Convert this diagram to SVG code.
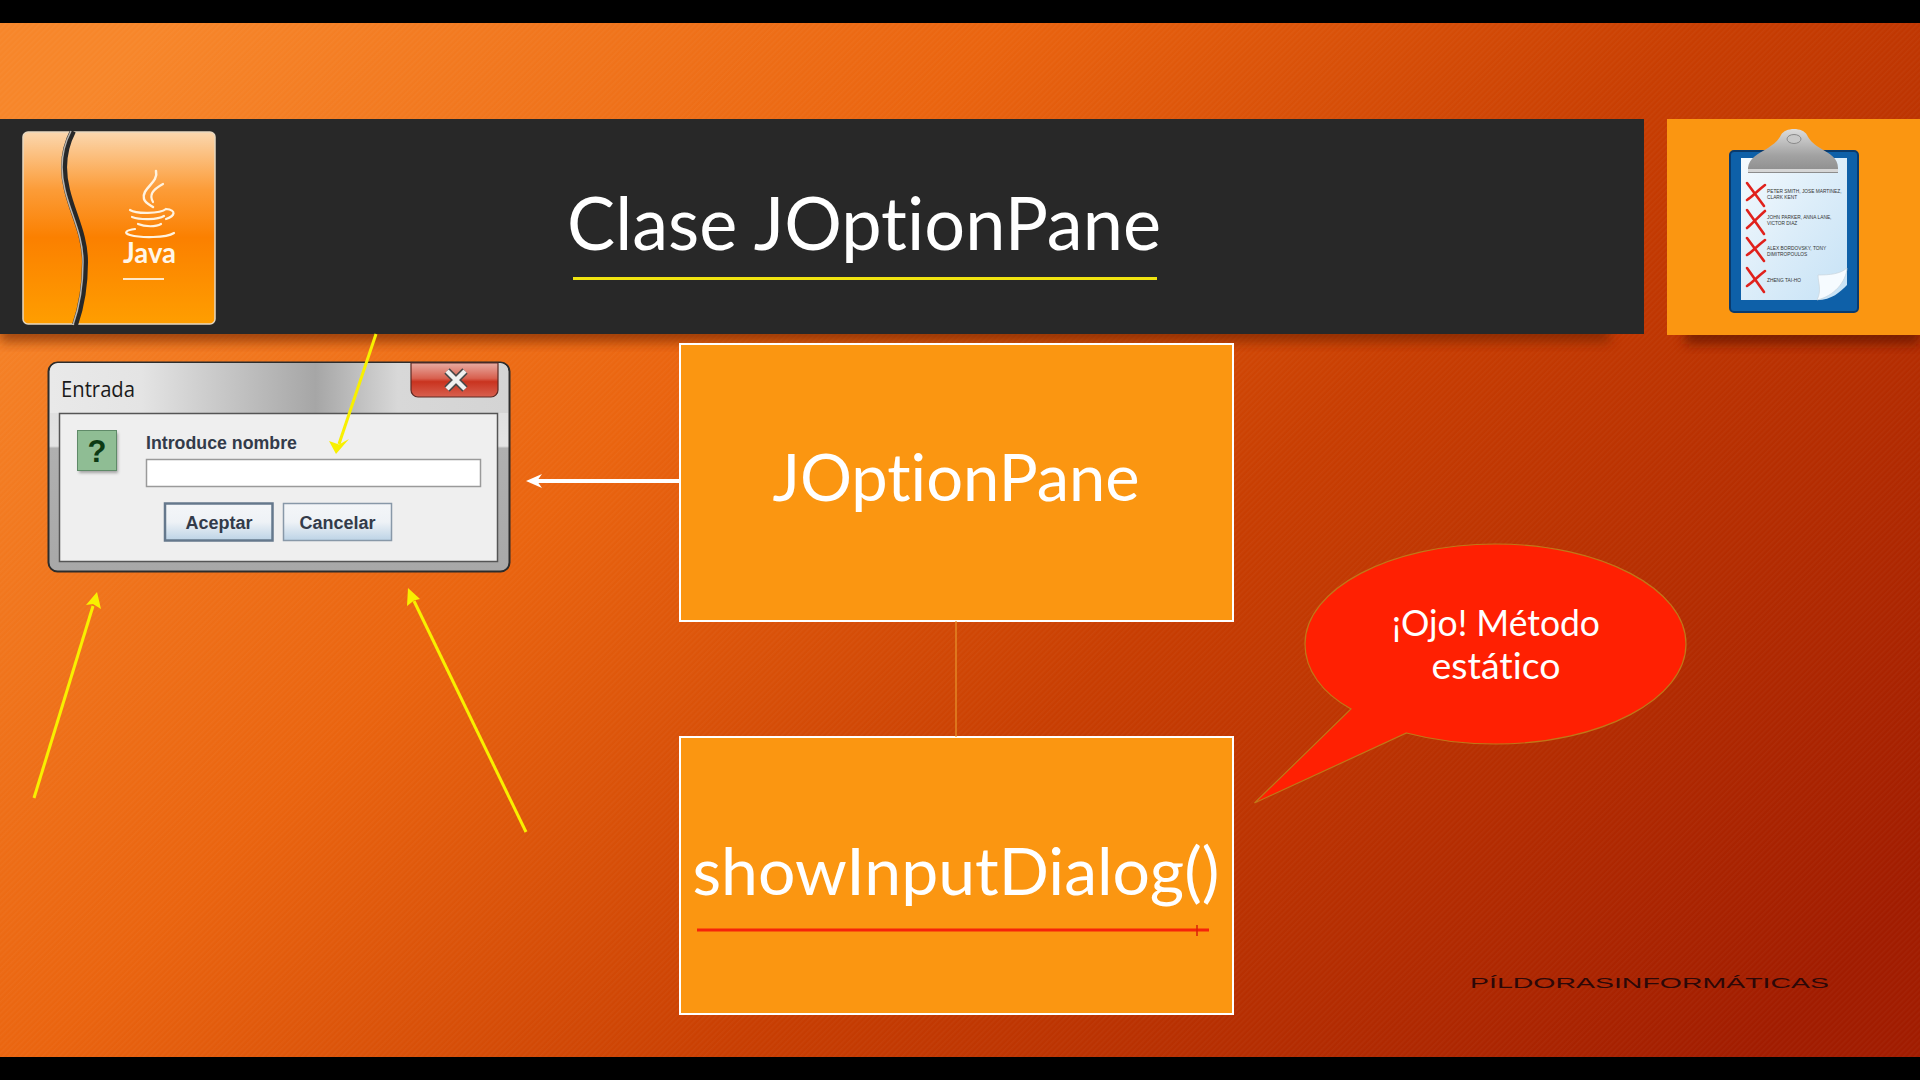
<svg xmlns="http://www.w3.org/2000/svg" width="1920" height="1080" viewBox="0 0 1920 1080">
<style>
.box{fill:#fb9611;stroke:#fff;stroke-width:2}
.big{font-family:"Lato","Open Sans",sans-serif;fill:#fff;text-anchor:middle;font-variant-ligatures:none}
.ui{font-family:"Liberation Sans",Arial,sans-serif;font-weight:bold;fill:#333b4a}
.tiny{font-family:"Liberation Sans",Arial,sans-serif;font-size:4.8px;fill:#333}
.yl{stroke:#f8f000;stroke-width:3;fill:none}
.yh{fill:#f8f000}
.xm{stroke:#e0211c;stroke-width:2.6;fill:none;stroke-linecap:round}
</style>
<defs>
<linearGradient id="bg" gradientUnits="userSpaceOnUse" x1="280" y1="-100" x2="1640" y2="1180">
<stop offset="0" stop-color="#f7862a"/><stop offset=".33" stop-color="#ea640f"/><stop offset=".6" stop-color="#c83e02"/><stop offset="1" stop-color="#a11c00"/>
</linearGradient>
<pattern id="st" width="4" height="4" patternUnits="userSpaceOnUse" patternTransform="rotate(45)">
<rect width="1.600" height="4" fill="#fff" opacity=".03"/>
</pattern>
<linearGradient id="ic" x1="0" y1="0" x2="0" y2="1">
<stop offset="0" stop-color="#fbd7ae"/><stop offset=".3" stop-color="#fc9c38"/><stop offset=".55" stop-color="#fb8000"/><stop offset="1" stop-color="#ff9e00"/>
</linearGradient>
<linearGradient id="ttl" x1="0" y1="0" x2="1" y2="0">
<stop offset="0" stop-color="#e9e9e9"/><stop offset=".2" stop-color="#e4e4e4"/><stop offset=".58" stop-color="#a6a6a6"/><stop offset=".76" stop-color="#d8d8d8"/><stop offset="1" stop-color="#d4d4d4"/>
</linearGradient>
<linearGradient id="fr" x1="0" y1="0" x2="0" y2="1">
<stop offset="0" stop-color="#d9d9d9"/><stop offset=".4" stop-color="#e4e4e4"/><stop offset=".41" stop-color="#b0b0b0"/><stop offset="1" stop-color="#a8a8a8"/>
</linearGradient>
<linearGradient id="cls" x1="0" y1="0" x2="0" y2="1">
<stop offset="0" stop-color="#e8aca2"/><stop offset=".45" stop-color="#d8604f"/><stop offset=".55" stop-color="#c9331f"/><stop offset="1" stop-color="#d8604f"/>
</linearGradient>
<linearGradient id="btn" x1="0" y1="0" x2="0" y2="1">
<stop offset="0" stop-color="#f4f6f8"/><stop offset=".5" stop-color="#eef2f6"/><stop offset="1" stop-color="#bcd3e6"/>
</linearGradient>
<linearGradient id="clip" x1="0" y1="0" x2="0" y2="1">
<stop offset="0" stop-color="#dcdcdc"/><stop offset=".6" stop-color="#a2a2a2"/><stop offset="1" stop-color="#8c8c8c"/>
</linearGradient>
<linearGradient id="paper" x1="0" y1="0" x2="1" y2="1">
<stop offset="0" stop-color="#f4fafe"/><stop offset=".5" stop-color="#dcedf9"/><stop offset="1" stop-color="#c6e2f6"/>
</linearGradient>
<filter id="bl" x="-10%" y="-50%" width="120%" height="200%"><feGaussianBlur stdDeviation="6"/></filter>
<filter id="sm" x="-20%" y="-20%" width="140%" height="140%"><feGaussianBlur stdDeviation="1.5"/></filter>
</defs>

<rect width="1920" height="1080" fill="url(#bg)"/>
<rect width="1920" height="1080" fill="url(#st)"/>
<rect width="1920" height="23" fill="#000"/>
<rect y="1057" width="1920" height="23" fill="#000"/>

<g id="banner">
<rect x="0" y="322" width="1610" height="20" fill="#6a2000" opacity=".6" filter="url(#bl)"/>
<rect x="0" y="119" width="1644" height="215" fill="#282828"/>
<text x="864" y="250" class="big" font-size="73" textLength="594" lengthAdjust="spacingAndGlyphs">Clase JOptionPane</text>
<rect x="573" y="277" width="584" height="3" fill="#f0e410"/>
</g>

<g id="java-icon">
<rect x="23" y="132" width="192" height="192" rx="5" fill="url(#ic)" stroke="#e8d8c0" stroke-width="1.500"/>
<path d="M73 131C63 150 62 170 67 190C73 215 85 235 85 262C85 285 82 305 75 325" fill="none" stroke="#282828" stroke-width="6"/>
<path d="M71 131C61 150 60 170 65 190C71 215 83 235 83 262C83 285 80 305 73 325" fill="none" stroke="#f4f0e8" stroke-width="1.500" opacity=".7"/>
<g fill="none" stroke="#fff3e0" stroke-linecap="round">
<path d="M156 171C159 183 141 188 144 199C145 203 150 205 153 207" stroke-width="2.500"/>
<path d="M163 184C152 190 149 195 153 202" stroke-width="2.200"/>
<path d="M130 210C136 214 160 214 166 209C177 210 175 216 166 219" stroke-width="2.200"/>
<path d="M132 217C140 220 158 220 164 216" stroke-width="2.200"/>
<path d="M138 224C145 227 156 227 161 224" stroke-width="2.200"/>
<path d="M135 229C126 230 123 233 130 235C141 238 166 238 174 233" stroke-width="2.200"/>
</g>
<text x="123" y="263" font-family="'Lato','Open Sans',sans-serif" font-size="28" font-weight="bold" fill="#fff6e8" textLength="53" lengthAdjust="spacingAndGlyphs">Java</text>
<rect x="123" y="278" width="41" height="2" fill="#ffe8c8"/>
</g>

<g id="list-icon">
<rect x="1685" y="324" width="235" height="20" fill="#5e1800" opacity=".7" filter="url(#bl)"/>
<rect x="1667" y="119" width="253" height="216" fill="#fb9611"/>
<rect x="1730" y="151" width="128" height="161" rx="4" fill="#0e60a8" stroke="#0a3a6c" stroke-width="2"/>
<path d="M1741 158H1847V285C1840 292 1832 300 1817 300H1741Z" fill="url(#paper)"/>
<path d="M1817 300C1822 290 1818 283 1818 275C1830 275 1840 274 1847 268C1846 282 1834 296 1817 300Z" fill="#f6fbff" stroke="#c8d4dc" stroke-width=".7"/>
<path d="M1748 168C1749 158 1758 154 1768 148C1776 143 1779 139 1781 135C1785 127 1803 127 1807 135C1809 139 1812 143 1820 148C1830 154 1838 158 1838 168V173H1748Z" fill="url(#clip)"/>
<rect x="1748" y="169" width="90" height="3" fill="#d6d6d6"/>
<ellipse cx="1794" cy="139" rx="7" ry="4.500" fill="#c8c8c8" stroke="#8a8a8a"/>
<path class="xm" d="M1747 183L1764 206M1765 185C1757 191 1752 197 1747 200"/>
<path class="xm" d="M1747 210L1764 234M1765 211C1757 218 1752 224 1747 228"/>
<path class="xm" d="M1747 238L1764 261M1765 240C1757 246 1752 252 1747 255"/>
<path class="xm" d="M1747 268L1764 292M1765 271C1757 277 1752 283 1747 286"/>
<text class="tiny" x="1767" y="193">PETER SMITH, JOSE MARTINEZ,</text>
<text class="tiny" x="1767" y="198.500">CLARK KENT</text>
<text class="tiny" x="1767" y="219">JOHN PARKER, ANNA LANE,</text>
<text class="tiny" x="1767" y="224.500">VICTOR DIAZ</text>
<text class="tiny" x="1767" y="250">ALEX BORDOVSKY, TONY</text>
<text class="tiny" x="1767" y="256">DIMITROPOULOS</text>
<text class="tiny" x="1767" y="281.500">ZHENG TAI-HO</text>
</g>

<g id="dialog">
<rect x="48.500" y="362.500" width="461" height="209" rx="9" fill="url(#fr)" stroke="#2c2c2c" stroke-width="2"/>
<path d="M50 372a8 8 0 0 1 8-9H500a8 8 0 0 1 8 9V413H50Z" fill="url(#ttl)"/>
<path d="M411 363H498V390a7 7 0 0 1-7 7H418a7 7 0 0 1-7-7Z" fill="url(#cls)" stroke="#5c2a24" stroke-width="1.200"/>
<path d="M447 371L465 389M465 371L447 389" stroke="#4a4a4a" stroke-width="7.500"/>
<path d="M447 371L465 389M465 371L447 389" stroke="#f0f0f0" stroke-width="4.500"/>
<text x="61" y="397" font-family="'Open Sans','Liberation Sans',sans-serif" font-size="21" fill="#1a1a1a" textLength="74" lengthAdjust="spacingAndGlyphs">Entrada</text>
<rect x="59.500" y="413.500" width="438" height="148" fill="#efefef" stroke="#555" stroke-width="1.500"/>
<rect x="79" y="433" width="39" height="40" fill="#555" opacity=".5" filter="url(#sm)"/>
<rect x="77.500" y="430.500" width="39" height="40" fill="#8fbd94" stroke="#5f8a68"/>
<text x="97" y="462" font-family="'Liberation Sans',Arial,sans-serif" font-weight="bold" font-size="31" fill="#0c3a14" text-anchor="middle">?</text>
<text class="ui" x="146" y="449" font-size="17.500" textLength="151" lengthAdjust="spacingAndGlyphs">Introduce nombre</text>
<rect x="146.500" y="459.500" width="334" height="27" fill="#fff" stroke="#9a9a9a" stroke-width="1.500"/>
<rect x="165" y="503.500" width="107.500" height="37" fill="url(#btn)" stroke="#65788c" stroke-width="2.500"/>
<rect x="283.500" y="503.500" width="108" height="37" fill="url(#btn)" stroke="#8898a8" stroke-width="1.500"/>
<text class="ui" x="219" y="529" font-size="18" text-anchor="middle">Aceptar</text>
<text class="ui" x="337.500" y="529" font-size="18" text-anchor="middle">Cancelar</text>
</g>

<g id="jop-box">
<rect class="box" x="680" y="344" width="553" height="277"/>
<text x="956" y="501" class="big" font-size="65" textLength="367" lengthAdjust="spacingAndGlyphs">JOptionPane</text>
</g>
<g id="method-box">
<rect class="box" x="680" y="737" width="553" height="277"/>
<text x="956" y="895" class="big" font-size="66" textLength="527" lengthAdjust="spacingAndGlyphs">showInputDialog()</text>
</g>

<g id="callout">
<path d="M1351 709C1322 693 1305 670 1305 644C1305 589 1390 544 1495.500 544C1601 544 1686 589 1686 644C1686 699 1601 744 1495.500 744C1463 744 1433 740 1406.500 733L1254.500 803Z" fill="#ff2002" stroke="#c07818" stroke-width="1.200"/>
<text x="1496" y="636" class="big" font-size="36" textLength="208" lengthAdjust="spacingAndGlyphs">¡Ojo! Método</text>
<text x="1496" y="679" class="big" font-size="36" textLength="129" lengthAdjust="spacingAndGlyphs">estático</text>
</g>

<g id="watermark">
<text x="1470" y="988" font-family="'Liberation Sans',sans-serif" font-size="14.500" fill="#2c0808" textLength="359" lengthAdjust="spacingAndGlyphs">PÍLDORASINFORMÁTICAS</text>
</g>

<g id="connectors">
<line x1="956" y1="621" x2="956" y2="737" stroke="#e8962c" stroke-width="1.200"/>
<line x1="680" y1="481" x2="534" y2="481" stroke="#fff" stroke-width="4"/>
<path d="M526 481L542 474L537 481L542 488Z" fill="#fff"/>
<path class="yl" d="M376 334L339 444"/>
<path class="yh" d="M336 454L329 441L339 444.500L349 439Z"/>
<path class="yl" d="M34 798L93 606"/>
<path class="yh" d="M97 592L101 609L93 604L86 605Z"/>
<path class="yl" d="M526 832L414 601"/>
<path class="yh" d="M408 588L420 599L414 600.500L407 606Z"/>
<line x1="697" y1="930" x2="1209" y2="930" stroke="#f5240a" stroke-width="3"/>
<line x1="1197" y1="925" x2="1197" y2="936" stroke="#d8200a" stroke-width="1.500"/>
</g>
</svg>
